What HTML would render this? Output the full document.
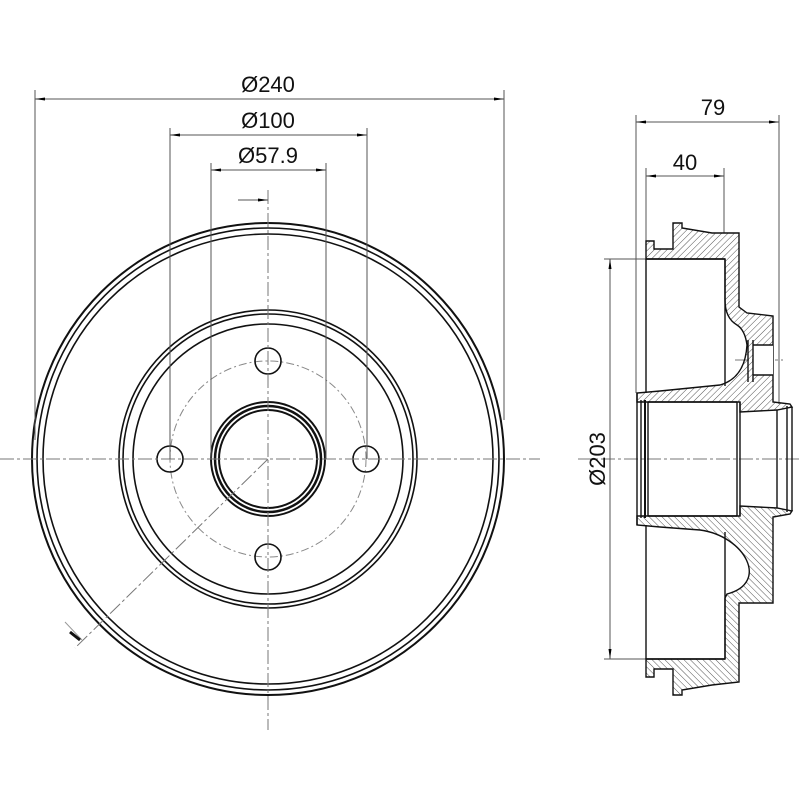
<!DOCTYPE html>
<html><head><style>body{margin:0;background:#fff}svg{display:block}text{font-family:"Liberation Sans",sans-serif;font-size:22px;fill:#111}</style></head>
<body>
<svg width="800" height="800" viewBox="0 0 800 800" xmlns="http://www.w3.org/2000/svg">
<defs>
<pattern id="h" width="4.5" height="4.5" patternUnits="userSpaceOnUse" patternTransform="rotate(45)"><line x1="0" y1="0" x2="0" y2="4.5" stroke="#555" stroke-width="1"/></pattern>
<marker id="a" viewBox="0 0 10 6" refX="10" refY="3" markerWidth="10" markerHeight="6" orient="auto-start-reverse" markerUnits="userSpaceOnUse"><path d="M0,1.5 L10,3 L0,4.5Z" fill="#000"/></marker>
</defs>
<g fill="none" stroke="#111">
<circle cx="268" cy="459" r="236" stroke-width="2"/>
<circle cx="268" cy="459" r="231" stroke-width="1.6"/>
<circle cx="268" cy="459" r="225" stroke-width="1.6"/>
<circle cx="268" cy="459" r="149" stroke-width="1.6"/>
<circle cx="268" cy="459" r="145" stroke-width="1.6"/>
<circle cx="268" cy="459" r="135" stroke-width="1.6"/>
<circle cx="268" cy="459" r="98" stroke="#888" stroke-width="1" stroke-dasharray="8,3,2,3"/>
<circle cx="268" cy="459" r="57" stroke-width="2"/>
<circle cx="268" cy="459" r="53" stroke-width="2.5"/>
<circle cx="268" cy="459" r="49" stroke-width="2"/>
<circle cx="170" cy="459" r="13" stroke-width="1.6"/>
<circle cx="366" cy="459" r="13" stroke-width="1.6"/>
<circle cx="268" cy="361" r="13" stroke-width="1.6"/>
<circle cx="268" cy="557" r="13" stroke-width="1.6"/>
<g stroke="#777" stroke-width="1" stroke-dasharray="14,3,3,3">
<line x1="0" y1="459" x2="540" y2="459"/>
<line x1="268" y1="190" x2="268" y2="730"/>
<line x1="268" y1="459" x2="75" y2="648"/>
<line x1="578" y1="459" x2="800" y2="459"/>
<line x1="735" y1="360" x2="783" y2="360"/>
</g>
<line x1="65" y1="622" x2="82" y2="640" stroke="#999"/>
<line x1="70" y1="632" x2="80" y2="640" stroke-width="3"/>
<g stroke="#555" stroke-width="1">
<line x1="35" y1="90" x2="35" y2="440"/>
<line x1="504" y1="90" x2="504" y2="420"/>
<line x1="170" y1="128" x2="170" y2="459"/>
<line x1="367" y1="128" x2="367" y2="459"/>
<line x1="211" y1="163" x2="211" y2="459"/>
<line x1="326" y1="163" x2="326" y2="459"/>
<line x1="35" y1="99" x2="504" y2="99" marker-start="url(#a)" marker-end="url(#a)"/>
<line x1="170" y1="135" x2="367" y2="135" marker-start="url(#a)" marker-end="url(#a)"/>
<line x1="211" y1="170" x2="326" y2="170" marker-start="url(#a)" marker-end="url(#a)"/>
<line x1="238" y1="200" x2="268" y2="200" marker-end="url(#a)"/>
<line x1="636" y1="115" x2="636" y2="393"/>
<line x1="779" y1="115" x2="779" y2="404"/>
<line x1="646" y1="168" x2="646" y2="241"/>
<line x1="724" y1="168" x2="724" y2="233"/>
<line x1="636" y1="122" x2="779" y2="122" marker-start="url(#a)" marker-end="url(#a)"/>
<line x1="646" y1="176" x2="724" y2="176" marker-start="url(#a)" marker-end="url(#a)"/>
<line x1="604" y1="259" x2="646" y2="259"/>
<line x1="604" y1="659" x2="646" y2="659"/>
<line x1="610" y1="259" x2="610" y2="659" marker-start="url(#a)" marker-end="url(#a)"/>
</g>
</g>
<text x="268" y="92" text-anchor="middle">Ø240</text>
<text x="268" y="128" text-anchor="middle">Ø100</text>
<text x="268" y="163" text-anchor="middle">Ø57.9</text>
<text x="713" y="115" text-anchor="middle">79</text>
<text x="685" y="170" text-anchor="middle">40</text>
<text x="0" y="0" text-anchor="middle" transform="translate(605,459) rotate(-90)">Ø203</text>
<g stroke="#111" stroke-width="1.4">
<path d="M646,259 L646,241 L654,241 L654,249 L673,249 L673,223 L682,223 L682,228 L712,233 L739,233 L739,307 L747,313 L773,316 L773,402 L790,404 L792,407 L777,410 L740,412 L740,402 L637,402 L637,393 L660,391 L720,385 Q745,378 747,345 Q745,330 737,325 Q725,318 725,300 L725,259 Z" fill="url(#h)"/>
<rect x="753" y="345" width="20" height="30" fill="#fff" stroke="none"/>
<path d="M753,345 L773,345 M753,375 L773,375 M748,340 L748,382 M753,340 L753,382" fill="none"/>
</g>
<g transform="translate(0,918) scale(1,-1)" stroke="#111" stroke-width="1.4">
<path d="M646,259 L646,241 L654,241 L654,249 L673,249 L673,223 L682,223 L682,228 L712,233 L739,236 L739,315 L773,315 L773,401 L790,404 L792,407 L777,410 L740,412 L740,402 L637,402 L637,393 L660,391 L700,388 C745,382 770,335 727,324 L725,320 L725,259 Z" fill="url(#h)"/>
</g>
<g fill="none" stroke="#111" stroke-width="1.4">
<line x1="646" y1="259" x2="725" y2="259"/>
<line x1="646" y1="259" x2="646" y2="393"/>
<line x1="646" y1="525" x2="646" y2="659"/>
<line x1="725" y1="259" x2="725" y2="386"/>
<line x1="725" y1="532" x2="725" y2="659"/>
<line x1="646" y1="659" x2="725" y2="659"/>
<line x1="637" y1="393" x2="637" y2="525"/>
<line x1="641" y1="400" x2="641" y2="518"/>
<line x1="645" y1="400" x2="645" y2="518" stroke-width="2"/>
<line x1="648" y1="402" x2="648" y2="516"/>
<line x1="737" y1="402" x2="737" y2="516"/>
<line x1="740" y1="402" x2="740" y2="516"/>
<line x1="777" y1="410" x2="777" y2="508"/>
<line x1="787" y1="406" x2="787" y2="512"/>
<line x1="792" y1="407" x2="792" y2="511"/>
<line x1="648" y1="402" x2="737" y2="402"/>
<line x1="648" y1="516" x2="737" y2="516"/>
</g>
</svg>
</body></html>
